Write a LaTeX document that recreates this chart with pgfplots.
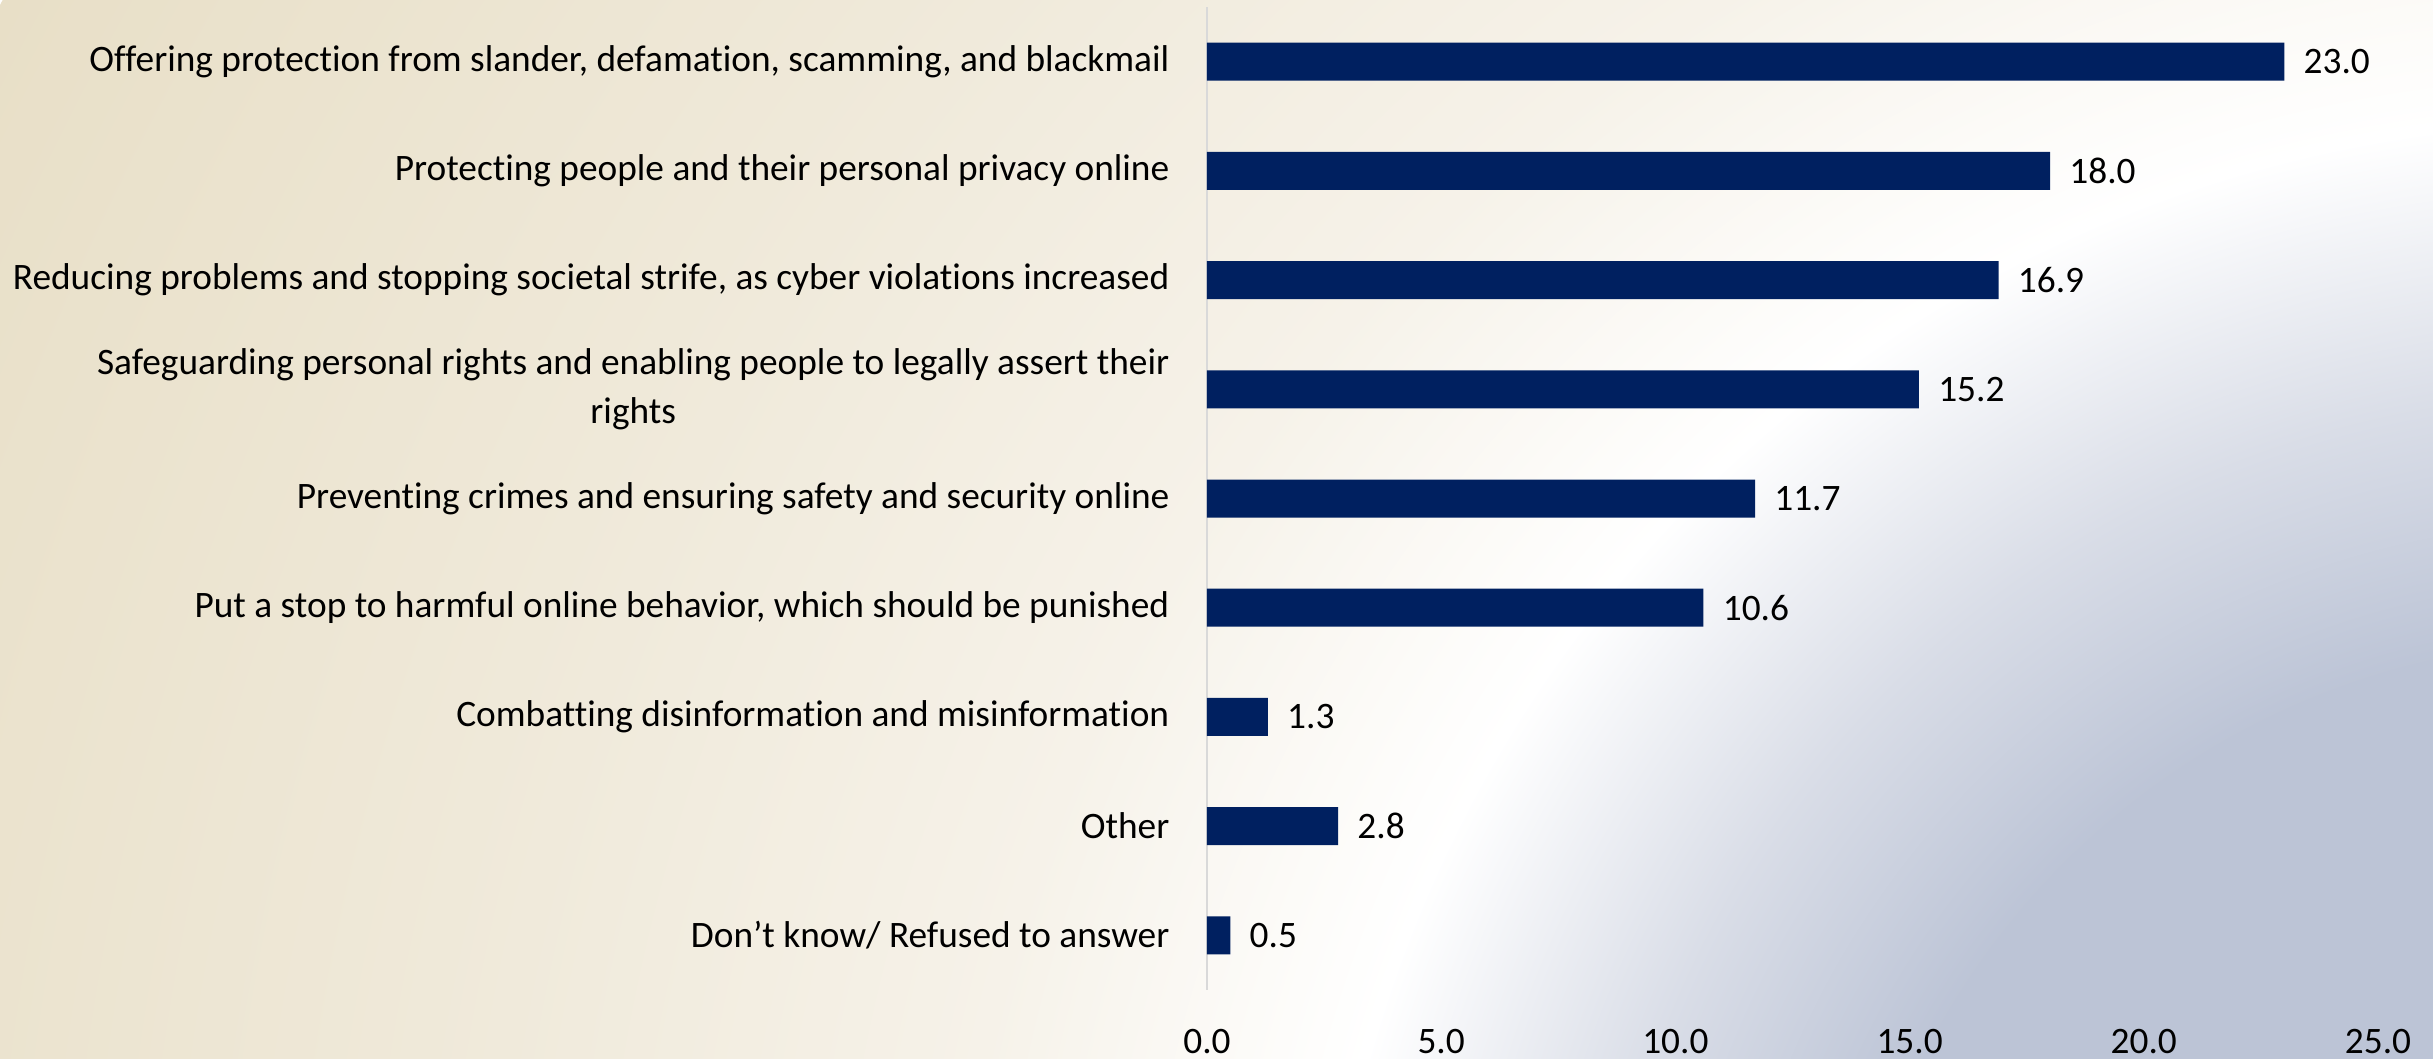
\documentclass[border=0pt]{standalone}
\usepackage{pgfplots}
\pgfplotsset{compat=1.18}
\usepackage{fontspec}
\setmainfont{Carlito}[Ligatures={NoCommon}]

\definecolor{barblue}{RGB}{0,32,96}
\definecolor{bgblue}{RGB}{188,196,214}
\definecolor{bgmid}{RGB}{217,221,231}
\definecolor{bgcream}{RGB}{246,242,233}
\definecolor{bgtan}{RGB}{240,234,219}
\definecolor{bgbeige}{RGB}{232,223,199}
\definecolor{axisgray}{RGB}{217,217,217}

% background: blue-grey core at lower right, white ring, beige outside
\pgfdeclareradialshading{bgshade}{\pgfpoint{0bp}{0bp}}{%
  color(0bp)=(bgblue); color(6.4bp)=(bgblue); color(8.5bp)=(bgmid);
  color(10.85bp)=(white); color(14bp)=(bgcream); color(18bp)=(bgtan);
  color(25bp)=(bgbeige); color(50bp)=(bgbeige)}

\newcommand{\lblfont}{\fontsize{11.2}{14.5}\selectfont}

\begin{document}
\begin{tikzpicture}
\useasboundingbox (-362.1pt,-20.7pt) rectangle (367.8pt,297pt);
\begin{scope}
  \clip (-362.1pt,-20.7pt) rectangle (367.8pt,297pt);
  \shade[shading=bgshade] (417.9pt,-123pt) circle (885pt);
\end{scope}
\begin{axis}[
    scale only axis, width=351.3pt, height=294.9pt,
    xbar, bar width=11.4pt,
    xmin=0, xmax=25, ymin=-0.5, ymax=8.5,
    axis y line*=left, axis x line*=bottom,
    x axis line style={draw=none},
    y axis line style={draw=axisgray, line width=0.7pt},
    major tick length=0pt,
    clip=false,
    xtick={0,5,10,15,20,25},
    ytick={0,1,2,3,4,5,6,7,8},
    yticklabels={
      {Don’t know/ Refused to answer},
      {Other},
      {Combatting disinformation and misinformation},
      {Put a stop to harmful online behavior, which should be punished},
      {Preventing crimes and ensuring safety and security online},
      {Safeguarding personal rights and enabling people to legally assert their\\rights},
      {Reducing problems and stopping societal strife, as cyber violations increased},
      {Protecting people and their personal privacy online},
      {Offering protection from slander, defamation, scamming, and blackmail}},
    tick label style={font=\lblfont, text=black},
    yticklabel style={inner sep=0pt, anchor=east, xshift=-11.1pt, align=center},
    xticklabel style={inner sep=0pt, anchor=north, yshift=-11.5pt},
    /pgf/number format/fixed,
    /pgf/number format/fixed zerofill,
    /pgf/number format/precision=1,
    /pgf/number format/assume math mode=true,
  ]
  \addplot[fill=barblue, draw=none, point meta=x,
    nodes near coords={\pgfmathprintnumber[fixed,fixed zerofill,precision=1,assume math mode=true]{\pgfplotspointmeta}},
    nodes near coords style={anchor=west, inner sep=0pt, xshift=5.6pt,
      font=\lblfont, text=black}]
  coordinates {
    (0.5,0) (2.8,1) (1.3,2) (10.6,3) (11.7,4)
    (15.2,5) (16.9,6) (18.0,7) (23.0,8)
  };
\end{axis}
\end{tikzpicture}
\end{document}
